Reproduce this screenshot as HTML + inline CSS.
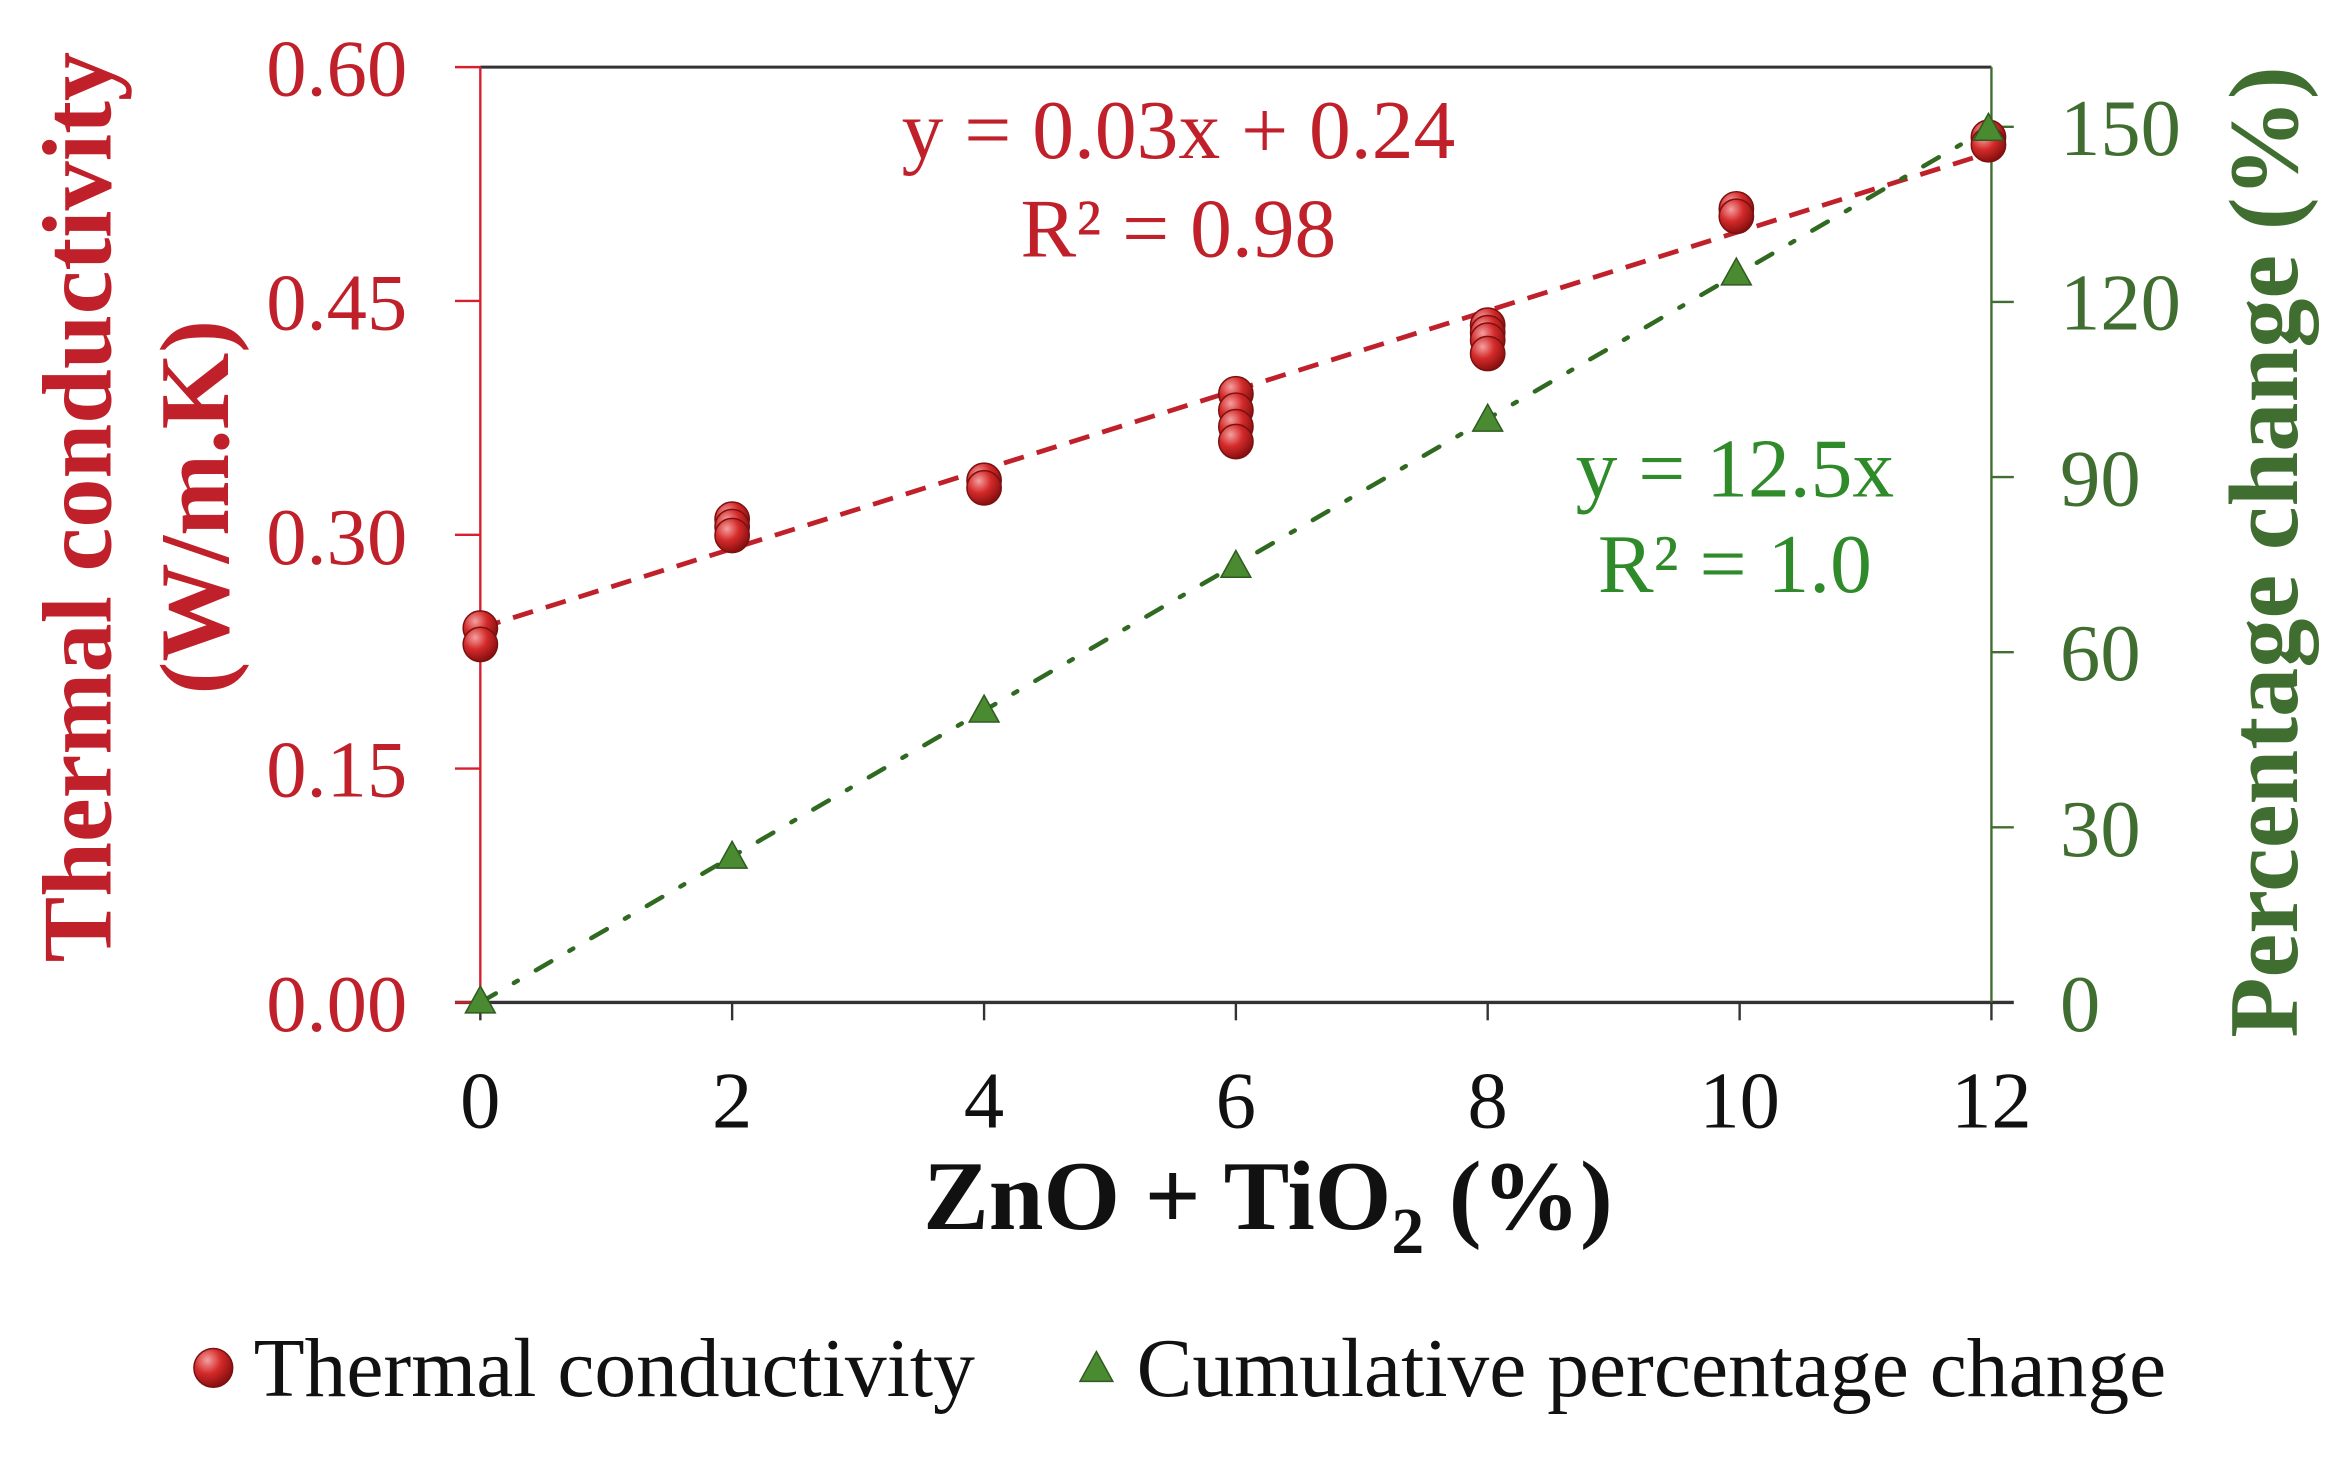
<!DOCTYPE html>
<html><head><meta charset="utf-8"><style>
html,body{margin:0;padding:0;background:#fff;}
svg{display:block;}
text{font-family:"Liberation Serif",serif;}
</style></head><body>
<svg width="2339" height="1458" viewBox="0 0 1568 977.4" preserveAspectRatio="none" xmlns="http://www.w3.org/2000/svg">
<defs>
<radialGradient id="rg" cx="0.35" cy="0.3" r="0.7">
<stop offset="0" stop-color="#f4a0a0"/><stop offset="0.5" stop-color="#d42a2a"/><stop offset="1" stop-color="#8a1010"/>
</radialGradient>
</defs>
<line x1="322" y1="45" x2="1335" y2="45" stroke="#333" stroke-width="2"/>
<line x1="305" y1="672" x2="1350" y2="672" stroke="#333" stroke-width="2.2"/>
<line x1="322" y1="45" x2="322" y2="672" stroke="#d62030" stroke-width="1.6"/>
<line x1="1335" y1="45" x2="1335" y2="672" stroke="#3f6e30" stroke-width="1.6"/>
<g stroke="#d62030" stroke-width="1.6">
<line x1="305" y1="45" x2="322" y2="45"/><line x1="305" y1="201.75" x2="322" y2="201.75"/>
<line x1="305" y1="358.5" x2="322" y2="358.5"/><line x1="305" y1="515.25" x2="322" y2="515.25"/>
<line x1="305" y1="672" x2="322" y2="672"/>
</g>
<g stroke="#3f6e30" stroke-width="1.6">
<line x1="1335" y1="85" x2="1350" y2="85"/><line x1="1335" y1="202.4" x2="1350" y2="202.4"/>
<line x1="1335" y1="319.8" x2="1350" y2="319.8"/><line x1="1335" y1="437.2" x2="1350" y2="437.2"/>
<line x1="1335" y1="554.6" x2="1350" y2="554.6"/>
</g>
<g stroke="#333" stroke-width="1.6">
<line x1="322" y1="672" x2="322" y2="684"/><line x1="490.8" y1="672" x2="490.8" y2="684"/>
<line x1="659.7" y1="672" x2="659.7" y2="684"/><line x1="828.5" y1="672" x2="828.5" y2="684"/>
<line x1="997.3" y1="672" x2="997.3" y2="684"/><line x1="1166.2" y1="672" x2="1166.2" y2="684"/>
<line x1="1335" y1="672" x2="1335" y2="684"/>
</g>
<g font-size="54" fill="#c0202a" text-anchor="end">
<text x="273" y="64">0.60</text><text x="273" y="221">0.45</text><text x="273" y="378">0.30</text>
<text x="273" y="534">0.15</text><text x="273" y="691">0.00</text>
</g>
<g font-size="54" fill="#3f6e30" text-anchor="start">
<text x="1381" y="104">150</text><text x="1381" y="221">120</text><text x="1381" y="339">90</text>
<text x="1381" y="456">60</text><text x="1381" y="574">30</text><text x="1381" y="691">0</text>
</g>
<g font-size="54" fill="#111" text-anchor="middle">
<text x="322" y="756">0</text><text x="490.8" y="756">2</text><text x="659.7" y="756">4</text>
<text x="828.5" y="756">6</text><text x="997.3" y="756">8</text><text x="1166.2" y="756">10</text><text x="1335" y="756">12</text>
</g>
<text transform="translate(74,340) rotate(-90)" font-size="66" font-weight="bold" fill="#c0202a" text-anchor="middle">Thermal conductivity</text>
<text transform="translate(153,340) rotate(-90)" font-size="66" font-weight="bold" fill="#c0202a" text-anchor="middle">(W/m.K)</text>
<text transform="translate(1540,370) rotate(-90)" font-size="66" font-weight="bold" fill="#3f6e30" text-anchor="middle">Percentage change (%)</text>
<text x="850" y="824" font-size="66" font-weight="bold" fill="#111" text-anchor="middle">ZnO + TiO<tspan font-size="44" dy="16">2</tspan><tspan dy="-16"> (%)</tspan></text>
<line x1="322" y1="421" x2="1335" y2="102" stroke="#c0202a" stroke-width="3.2" stroke-dasharray="14,9"/>
<line x1="322" y1="672" x2="1335" y2="85" stroke="#2f6a20" stroke-width="3" stroke-dasharray="12,14,3,14" stroke-linecap="round"/>
<text x="790" y="106" font-size="56" fill="#c0202a" text-anchor="middle">y = 0.03x + 0.24</text>
<text x="790" y="172" font-size="56" fill="#c0202a" text-anchor="middle">R² = 0.98</text>
<text x="1163" y="333" font-size="56" fill="#2f8a2a" text-anchor="middle">y = 12.5x</text>
<text x="1163" y="397" font-size="56" fill="#2f8a2a" text-anchor="middle">R² = 1.0</text>
<g fill="url(#rg)" stroke="#7a1010" stroke-width="1">
<circle cx="322" cy="421" r="11.5"/><circle cx="322" cy="432" r="11.5"/>
<circle cx="490.8" cy="348" r="11.5"/><circle cx="490.8" cy="353" r="11.5"/><circle cx="490.8" cy="359" r="11.5"/>
<circle cx="659.7" cy="322" r="11.5"/><circle cx="659.7" cy="327" r="11.5"/>
<circle cx="828.5" cy="264" r="11.5"/><circle cx="828.5" cy="275" r="11.5"/><circle cx="828.5" cy="286" r="11.5"/><circle cx="828.5" cy="296" r="11.5"/>
<circle cx="997.3" cy="218" r="11.5"/><circle cx="997.3" cy="223" r="11.5"/><circle cx="997.3" cy="228" r="11.5"/><circle cx="997.3" cy="237" r="11.5"/>
<circle cx="1164" cy="140" r="11.5"/><circle cx="1164" cy="145" r="11.5"/>
<circle cx="1333" cy="92" r="11.5"/><circle cx="1333" cy="97" r="11.5"/>
</g>
<g fill="#4a8a30" stroke="#2f5a20" stroke-width="1">
<polygon points="322,661 332,679 312,679"/>
<polygon points="490.8,564 500.8,582 480.8,582"/>
<polygon points="659.7,466 669.7,484 649.7,484"/>
<polygon points="828.5,369 838.5,387 818.5,387"/>
<polygon points="997.3,271 1007.3,289 987.3,289"/>
<polygon points="1164,173 1174,191 1154,191"/>
<polygon points="1333,76 1343,94 1323,94"/>
</g>
<circle cx="143" cy="917" r="13" fill="url(#rg)" stroke="#7a1010" stroke-width="1"/>
<text x="170" y="936" font-size="56" fill="#111">Thermal conductivity</text>
<polygon points="735,906 746,926 724,926" fill="#4a8a30" stroke="#2f5a20" stroke-width="1"/>
<text x="762" y="936" font-size="56" fill="#111">Cumulative percentage change</text>
</svg>
</body></html>
